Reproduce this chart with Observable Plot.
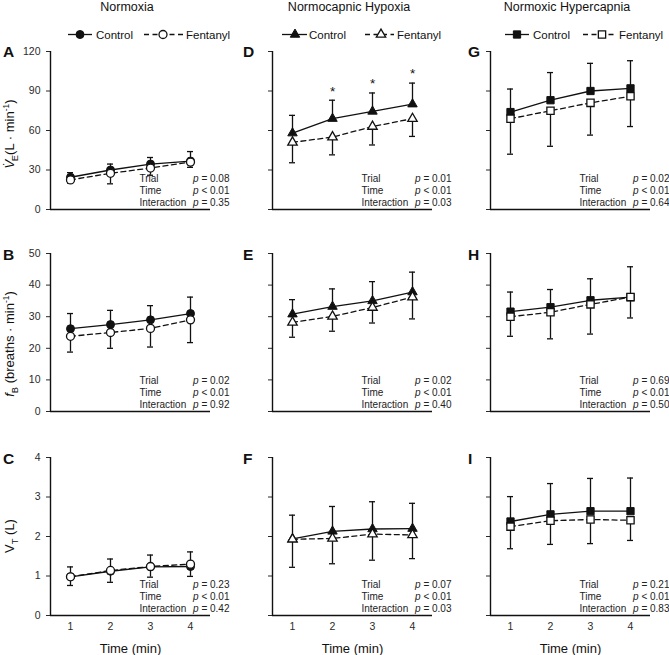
<!DOCTYPE html>
<html>
<head>
<meta charset="utf-8">
<script src="https://cdn.jsdelivr.net/npm/d3@7"></script>
<script src="https://cdn.jsdelivr.net/npm/@observablehq/plot@0.6"></script>
<style>
html, body { margin: 0; padding: 0; background: #fff; overflow: hidden; }
#wrap { position: relative; width: 669px; height: 655px; font-family: "Liberation Sans", Arial, Helvetica, sans-serif; }
#wrap svg { position: absolute; overflow: visible; }
</style>
</head>
<body>
<div id="wrap"></div>
<script>
// ---------------- data ----------------
const times = [1, 2, 3, 4];
const conditions = ["Normoxia", "Normocapnic Hypoxia", "Normoxic Hypercapnia"];
const panelLetters = [["A", "D", "G"], ["B", "E", "H"], ["C", "F", "I"]];
const symbols = ["circle", "triangle", "square"];
const seriesNames = ["Control", "Fentanyl"];

// Row 1: minute ventilation V̇E (L·min-1), columns = conditions
const veControl      = [[24.5, 30, 34.5, 36.8], [58, 69, 74.5, 80], [74, 83, 90, 92]];
const veControlUpper = [[28, 34.5, 39.5, 44], [71.5, 83, 88.5, 96], [91.5, 104, 111, 113]];
const veFentanyl      = [[22.5, 27.5, 31.5, 36], [51, 55, 63, 69], [69, 75, 81, 86]];
const veFentanylLower = [[20, 19.5, 26, 32], [35.5, 41.5, 49, 55.5], [42, 48, 56.5, 63]];
const veSignificant = [[], [2, 3, 4], []];

// Row 2: breathing frequency fB (breaths·min-1)
const fbControl      = [[26.2, 27.5, 29, 31], [30.8, 33.2, 35, 37.8], [31.6, 33, 35.2, 36.2]];
const fbControlUpper = [[31, 32, 33.5, 36.2], [35.4, 38.8, 41.1, 44.1], [37.8, 38.6, 42, 45.8]];
const fbFentanyl      = [[23.8, 25, 26.3, 29], [28.2, 30.1, 32.9, 36.2], [30, 31.4, 33.9, 36.2]];
const fbFentanylLower = [[18.8, 20, 20.4, 21.8], [23.5, 25.4, 28, 29.3], [23.8, 23, 24.5, 29.6]];
const fbSignificant = [[], [], []];

// Row 3: tidal volume VT (L)
const vtControl      = [[0.98, 1.12, 1.23, 1.24], [1.94, 2.13, 2.19, 2.2], [2.38, 2.56, 2.64, 2.64]];
const vtControlUpper = [[1.23, 1.43, 1.53, 1.61], [2.54, 2.76, 2.88, 2.84], [3.01, 3.34, 3.47, 3.48]];
const vtFentanyl      = [[0.98, 1.14, 1.24, 1.30], [1.93, 1.95, 2.06, 2.04], [2.25, 2.40, 2.43, 2.41]];
const vtFentanylLower = [[0.76, 0.84, 0.97, 0.99], [1.22, 1.31, 1.40, 1.44], [1.69, 1.80, 1.82, 1.90]];
const vtSignificant = [[], [], []];

// y axes
const yDomains = [[0, 120], [0, 50], [0, 4]];
const yTicks = [[0, 30, 60, 90, 120], [0, 10, 20, 30, 40, 50], [0, 1, 2, 3, 4]];

// statistics (p values)
const statLabels = ["Trial", "Time", "Interaction"];
const pTrial       = [["= 0.08", "= 0.01", "= 0.02"], ["= 0.02", "= 0.02", "= 0.69"], ["= 0.23", "= 0.07", "= 0.21"]];
const pTime        = [["< 0.01", "< 0.01", "< 0.01"], ["< 0.01", "< 0.01", "< 0.01"], ["< 0.01", "< 0.01", "< 0.01"]];
const pInteraction = [["= 0.35", "= 0.03", "= 0.64"], ["= 0.92", "= 0.40", "= 0.50"], ["= 0.42", "= 0.03", "= 0.83"]];

// ---------------- layout ----------------
const FONT = '"Liberation Sans", Arial, Helvetica, sans-serif';
const INK = "#111";
const colLeft = [50, 272, 490];
const rowTop = [51, 253, 457];
const FW = 160, FH = 158;
const symbolR = {circle: 4, triangle: 3.5, square: 4.1};

const ctrlMean = [veControl, fbControl, vtControl];
const ctrlUp = [veControlUpper, fbControlUpper, vtControlUpper];
const fentMean = [veFentanyl, fbFentanyl, vtFentanyl];
const fentLo = [veFentanylLower, fbFentanylLower, vtFentanylLower];
const sigs = [veSignificant, fbSignificant, vtSignificant];

const wrap = document.getElementById("wrap");

function makePanel(r, c) {
  const rows = times.map((t, i) => ({
    t,
    ctrl: ctrlMean[r][c][i],
    up: ctrlUp[r][c][i],
    fent: fentMean[r][c][i],
    lo: fentLo[r][c][i],
    sig: sigs[r][c].includes(t)
  }));
  const sym = symbols[c];
  const rr = symbolR[sym];
  const mL = 50, mR = 22, mT = 16, mB = r === 2 ? 44 : 6;
  const cap = 0.075;
  const lw = 1.3;
  const marks = [
    Plot.ruleX([0.5], {stroke: INK, strokeWidth: 1.4}),
    Plot.ruleY([yDomains[r][0]], {stroke: INK, strokeWidth: 1.4}),
    // error bars
    Plot.ruleX(rows, {x: "t", y1: "ctrl", y2: "up", stroke: INK, strokeWidth: lw}),
    Plot.ruleY(rows, {y: "up", x1: d => d.t - cap, x2: d => d.t + cap, stroke: INK, strokeWidth: lw}),
    Plot.ruleX(rows, {x: "t", y1: "fent", y2: "lo", stroke: INK, strokeWidth: lw}),
    Plot.ruleY(rows, {y: "lo", x1: d => d.t - cap, x2: d => d.t + cap, stroke: INK, strokeWidth: lw}),
    // lines
    Plot.line(rows, {x: "t", y: "ctrl", stroke: INK, strokeWidth: lw}),
    Plot.line(rows, {x: "t", y: "fent", stroke: INK, strokeWidth: lw, strokeDasharray: "5,3.5"}),
    // markers
    Plot.dot(rows, {x: "t", y: "ctrl", symbol: () => sym, r: rr, fill: INK, stroke: INK, strokeWidth: 1}),
    Plot.dot(rows, {x: "t", y: "fent", symbol: () => sym, r: rr, fill: "white", stroke: INK, strokeWidth: 1.3}),
    // significance
    Plot.text(rows.filter(d => d.sig), {x: "t", y: "up", text: () => "*", dy: -9, fontSize: 13.5, fill: INK}),
    // stats
    Plot.text([statLabels.join("\n")], {text: d => d, frameAnchor: "bottom-left", dx: 89, dy: -19.5,
      textAnchor: "start", lineAnchor: "middle", lineHeight: 1.2, fontSize: 10, fill: "#222"}),
    Plot.text(["p\np\np"], {text: d => d, frameAnchor: "bottom-left", dx: 148, dy: -19.5,
      textAnchor: "end", lineAnchor: "middle", lineHeight: 1.2, fontSize: 10, fontStyle: "italic", fill: "#222"}),
    Plot.text([[pTrial[r][c], pTime[r][c], pInteraction[r][c]].join("\n")], {text: d => d, frameAnchor: "bottom-left", dx: 179, dy: -19.5,
      textAnchor: "end", lineAnchor: "middle", lineHeight: 1.2, fontSize: 10, fill: "#222"})
  ];
  if (r === 2) {
    marks.push(Plot.text(["Time (min)"], {text: d => d, frameAnchor: "bottom", dy: 33, fontSize: 13, lineAnchor: "middle", fill: INK}));
  }
  const svg = Plot.plot({
    width: mL + FW + mR,
    height: mT + FH + mB,
    marginLeft: mL, marginRight: mR, marginTop: mT, marginBottom: mB,
    style: {fontFamily: FONT, fontSize: "10.5px", color: "#2a2a2a", background: "transparent", overflow: "visible"},
    x: r === 2
      ? {domain: [0.5, 4.5], ticks: times, tickSize: 0, tickPadding: 7, tickFormat: d => String(d), label: null}
      : {domain: [0.5, 4.5], axis: null},
    y: {domain: yDomains[r], ticks: yTicks[r], tickSize: 4, tickPadding: 6,
        tickFormat: c === 0 ? (d => String(d)) : (() => ""), label: null},
    marks
  });
  svg.style.position = "absolute";
  svg.style.left = (colLeft[c] - mL) + "px";
  svg.style.top = (rowTop[r] - mT) + "px";
  wrap.appendChild(svg);
}

for (let r = 0; r < 3; r++) for (let c = 0; c < 3; c++) makePanel(r, c);

// ---------------- annotations (titles, legends, letters, axis titles) ----------------
const ov = d3.select(wrap).append("svg")
  .attr("width", 669).attr("height", 655)
  .style("left", "0px").style("top", "0px")
  .attr("font-family", FONT);

const d3Sym = {circle: d3.symbolCircle, triangle: d3.symbolTriangle, square: d3.symbolSquare};
const legendPos = [
  {c1: 68, c2: 92, cm: 80, ct: 96, f1: 144, f2: 184, fm: 163, ft: 186},
  {c1: 282, c2: 307, cm: 295, ct: 309, f1: 365, f2: 394, fm: 381, ft: 397},
  {c1: 505, c2: 529, cm: 517, ct: 533, f1: 583, f2: 615, fm: 602, ft: 619}
];
const legendY = 34.5;

conditions.forEach((name, c) => {
  ov.append("text").attr("x", colLeft[c] + 77).attr("y", 7).attr("dy", "0.35em")
    .attr("text-anchor", "middle").attr("font-size", 12.5).attr("fill", INK).text(name);
  const L = legendPos[c];
  const sym = symbols[c];
  const size = Math.PI * symbolR[sym] * symbolR[sym];
  ov.append("line").attr("x1", L.c1).attr("x2", L.c2).attr("y1", legendY).attr("y2", legendY)
    .attr("stroke", INK).attr("stroke-width", 1.3);
  ov.append("path").attr("d", d3.symbol(d3Sym[sym], size)()).attr("transform", `translate(${L.cm},${legendY})`)
    .attr("fill", INK).attr("stroke", INK);
  ov.append("text").attr("x", L.ct).attr("y", legendY).attr("dy", "0.35em").attr("font-size", 11.5)
    .attr("fill", INK).text(seriesNames[0]);
  ov.append("line").attr("x1", L.f1).attr("x2", L.f2).attr("y1", legendY).attr("y2", legendY)
    .attr("stroke", INK).attr("stroke-width", 1.3).attr("stroke-dasharray", "5,3.5");
  ov.append("path").attr("d", d3.symbol(d3Sym[sym], size)()).attr("transform", `translate(${L.fm},${legendY})`)
    .attr("fill", "white").attr("stroke", INK).attr("stroke-width", 1.3);
  ov.append("text").attr("x", L.ft).attr("y", legendY).attr("dy", "0.35em").attr("font-size", 11.5)
    .attr("fill", INK).text(seriesNames[1]);
});

// panel letters
const letterX = [3, 243, 468];
const letterY = [51, 254, 458];
for (let r = 0; r < 3; r++) for (let c = 0; c < 3; c++) {
  ov.append("text").attr("x", letterX[c]).attr("y", letterY[r]).attr("dy", "0.36em")
    .attr("font-size", 15.5).attr("font-weight", "bold").attr("fill", INK).text(panelLetters[r][c]);
}

// y-axis titles with sub/superscripts
function rich(textSel, parts, fs) {
  let shift = 0;
  parts.forEach(p => {
    const ts = textSel.append("tspan").text(p.t);
    let target = 0, size = fs;
    if (p.sub) { target = fs * 0.3; size = fs * 0.72; }
    if (p.sup) { target = -fs * 0.38; size = fs * 0.65; }
    if (p.over) { target = -fs * 0.12; }
    ts.attr("dy", target - shift).attr("font-size", size);
    if (p.dx != null) ts.attr("dx", p.dx);
    if (p.i) ts.attr("font-style", "italic");
    shift = target;
  });
}
const yTitles = [
  [{t: "V", i: true}, {t: "\u02D9", over: true, dx: -6.2}, {t: "E", sub: true, dx: 0.6}, {t: "(L \u00b7 min"}, {t: "-1", sup: true}, {t: ")"}],
  [{t: "f", i: true}, {t: "B", sub: true}, {t: " (breaths \u00b7 min"}, {t: "-1", sup: true}, {t: ")"}],
  [{t: "V"}, {t: "T", sub: true}, {t: " (L)"}]
];
const yTitleCenter = [134, 344, 536];
yTitles.forEach((parts, r) => {
  const t = ov.append("text").attr("text-anchor", "middle").attr("fill", INK)
    .attr("font-size", 13)
    .attr("transform", `translate(14,${yTitleCenter[r]}) rotate(-90)`);
  rich(t, parts, 13);
});
</script>
</body>
</html>
